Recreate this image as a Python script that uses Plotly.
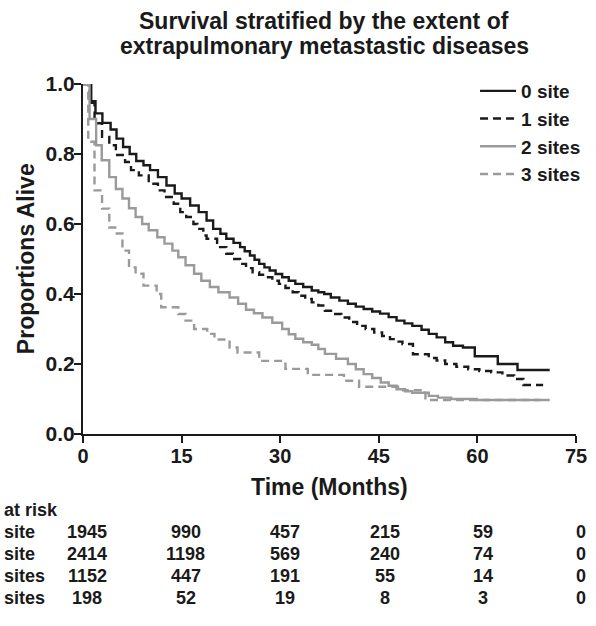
import plotly.graph_objects as go

# ---------------- data ----------------
series_names = ["0 site", "1 site", "2 sites", "3 sites"]

t_0site = [0, 1.25, 1.9, 2.95, 4.2, 5.1, 6.1, 7.1, 8.1, 9.2, 10.2, 11.4, 12.7, 13.95, 15.0, 16.3, 17.6,
           18.8, 19.8, 20.9, 21.8, 22.9, 23.9, 24.6, 25.4, 26.1, 26.8, 27.6, 28.4, 29.3, 30.3, 31.3,
           32.3, 33.5, 34.8, 35.8, 36.7, 37.7, 39.0, 40.3, 41.5, 42.7, 44.0, 45.2, 46.5, 47.7, 48.9,
           50.1, 51.5, 52.6, 53.8, 55.1, 56.3, 57.8, 59.6, 63.1, 66.1, 71.0]
s_0site = [1.0, 0.951, 0.916, 0.889, 0.870, 0.844, 0.820, 0.800, 0.780, 0.768, 0.754, 0.734, 0.710, 0.687,
           0.673, 0.653, 0.634, 0.610, 0.586, 0.572, 0.558, 0.546, 0.534, 0.522, 0.510, 0.498, 0.486,
           0.476, 0.467, 0.457, 0.448, 0.438, 0.429, 0.420, 0.410, 0.405, 0.400, 0.390, 0.381, 0.372,
           0.364, 0.357, 0.350, 0.344, 0.334, 0.324, 0.316, 0.309, 0.298, 0.286, 0.276, 0.262, 0.252,
           0.247, 0.222, 0.200, 0.183, 0.183]

t_1site = [0, 1.0, 1.76, 2.9, 4.0, 5.0, 6.4, 7.3, 8.5, 10.0, 11.4, 12.4, 13.8, 14.8, 15.7, 16.8, 17.4,
           18.3, 18.8, 20.4, 21.8, 22.8, 23.9, 24.8, 25.8, 26.8, 27.9, 28.8, 29.8, 30.8, 31.9, 32.8,
           33.8, 34.8, 35.8, 36.8, 38.0, 39.3, 40.5, 41.7, 43.0, 44.3, 45.5, 46.7, 47.6, 48.6, 50.2,
           52.6, 53.8, 55.1, 56.8, 58.6, 60.3, 62.1, 63.8, 65.6, 67.0, 70.0]
s_1site = [1.0, 0.946, 0.888, 0.849, 0.825, 0.797, 0.777, 0.754, 0.739, 0.715, 0.696, 0.677, 0.658, 0.634,
           0.620, 0.600, 0.586, 0.567, 0.558, 0.534, 0.515, 0.500, 0.486, 0.474, 0.462, 0.455, 0.448,
           0.438, 0.429, 0.417, 0.405, 0.395, 0.386, 0.376, 0.367, 0.352, 0.343, 0.333, 0.320, 0.309,
           0.300, 0.290, 0.280, 0.271, 0.264, 0.257, 0.228, 0.217, 0.210, 0.200, 0.192, 0.185, 0.180,
           0.176, 0.167, 0.157, 0.140, 0.140]

t_2sites = [0, 1.0, 2.0, 2.85, 4.0, 5.0, 6.0, 7.0, 8.0, 9.0, 10.0, 11.3, 12.4, 13.6, 14.5, 15.6, 16.9,
            18.0, 19.3, 20.6, 22.3, 23.6, 24.8, 26.0, 27.3, 28.8, 30.3, 31.3, 32.3, 33.5, 34.8, 35.8,
            36.8, 38.5, 40.3, 41.5, 42.7, 44.0, 45.3, 46.5, 47.7, 49.0, 50.1, 52.6, 54.0, 56.0, 59.9, 71.0]
s_2sites = [1.0, 0.900, 0.825, 0.782, 0.734, 0.700, 0.673, 0.645, 0.620, 0.600, 0.582, 0.562, 0.544, 0.524,
            0.505, 0.482, 0.458, 0.438, 0.420, 0.405, 0.390, 0.372, 0.355, 0.345, 0.333, 0.318, 0.300,
            0.285, 0.272, 0.262, 0.255, 0.243, 0.229, 0.215, 0.200, 0.185, 0.171, 0.160, 0.147, 0.138,
            0.128, 0.122, 0.118, 0.109, 0.104, 0.100, 0.097, 0.097]

t_3sites = [0, 0.8, 1.75, 2.9, 4.0, 4.9, 6.0, 7.0, 8.0, 9.2, 11.2, 11.9, 14.5, 15.6, 16.9, 18.9, 20.0,
            22.3, 23.5, 26.8, 30.8, 34.2, 39.7, 42.0, 48.7, 52.1, 69.5]
s_3sites = [1.0, 0.835, 0.696, 0.644, 0.590, 0.573, 0.524, 0.476, 0.458, 0.424, 0.400, 0.362, 0.343, 0.324,
            0.300, 0.286, 0.270, 0.247, 0.233, 0.209, 0.186, 0.169, 0.152, 0.135, 0.125, 0.097, 0.097]

x_ticks = [0, 15, 30, 45, 60, 75]
y_ticks = [0.0, 0.2, 0.4, 0.6, 0.8, 1.0]

risk_times = [0, 15, 30, 45, 60, 75]
risk_labels = ["site", "site", "sites", "sites"]
risk_0site = [1945, 990, 457, 215, 59, 0]
risk_1site = [2414, 1198, 569, 240, 74, 0]
risk_2sites = [1152, 447, 191, 55, 14, 0]
risk_3sites = [198, 52, 19, 8, 3, 0]

title_lines = ["Survival stratified by the extent of", "extrapulmonary metastastic diseases"]

# ---------------- styling ----------------
W, H = 596, 626
ML, MR, MT, MB = 83, 10, 84, 192
PW, PH = W - ML - MR, H - MT - MB
FONT = "Liberation Sans, Arial, Helvetica, sans-serif"
BLACK = "#1a1a1a"
GRAY = "#9a9a9a"
COL_SHIFT = [4, 4, 5, 6, 6, 5]     # pixel nudges of the at-risk columns
ROW_Y = [532, 554, 576, 598]       # pixel rows of the at-risk table


def pyp(py):  # pixel y -> paper y
    return (H - MB - py) / PH


def pxp(px):  # pixel x -> paper x
    return (px - ML) / PW


fig = go.Figure()
series = [
    (t_0site, s_0site, BLACK, "solid"),
    (t_1site, s_1site, BLACK, "8px,5px"),
    (t_2sites, s_2sites, GRAY, "solid"),
    (t_3sites, s_3sites, GRAY, "8px,5px"),
]
for i, (tt, ss, col, dash) in enumerate(series):
    fig.add_trace(go.Scatter(
        x=tt, y=ss, mode="lines", name=f"<b>{series_names[i]}</b>", legendgroup=f"g{i}",
        line=dict(color=col, width=2.4, dash=dash, shape="hv"),
        hoverinfo="skip",
    ))

annotations = []
# title
for k, line in enumerate(title_lines):
    annotations.append(dict(text=f"<b>{line}</b>", xref="paper", yref="paper",
                            x=pxp(329), y=pyp(21 + 25.5 * k), xanchor="center", yanchor="middle",
                            showarrow=False, font=dict(family=FONT, size=23, color=BLACK)))
# axis titles
annotations.append(dict(text="<b>Time (Months)</b>", xref="paper", yref="paper",
                        x=0.5, y=pyp(487), xanchor="center", yanchor="middle", showarrow=False,
                        font=dict(family=FONT, size=23, color=BLACK)))
annotations.append(dict(text="<b>Proportions Alive</b>", xref="paper", yref="paper",
                        x=pxp(25), y=0.5, xanchor="center", yanchor="middle", showarrow=False,
                        textangle=-90, font=dict(family=FONT, size=23, color=BLACK)))
# at-risk table
annotations.append(dict(text="<b>at risk</b>", xref="paper", yref="paper",
                        x=pxp(0), y=pyp(510), xanchor="left", yanchor="middle", showarrow=False,
                        font=dict(family=FONT, size=18, color=BLACK)))
risk_rows = [risk_0site, risk_1site, risk_2sites, risk_3sites]
for r, (lab, vals) in enumerate(zip(risk_labels, risk_rows)):
    annotations.append(dict(text=f"<b>{lab}</b>", xref="paper", yref="paper",
                            x=pxp(0), y=pyp(ROW_Y[r]), xanchor="left", yanchor="middle",
                            showarrow=False, font=dict(family=FONT, size=18, color=BLACK)))
    for c, (tx, v) in enumerate(zip(risk_times, vals)):
        annotations.append(dict(text=f"<b>{v}</b>", xref="x", yref="paper",
                                x=tx, y=pyp(ROW_Y[r]), xanchor="center", yanchor="middle",
                                xshift=COL_SHIFT[c], showarrow=False,
                                font=dict(family=FONT, size=18, color=BLACK)))

fig.update_layout(
    width=W, height=H,
    margin=dict(l=ML, r=MR, t=MT, b=MB, pad=0),
    paper_bgcolor="white", plot_bgcolor="white",
    showlegend=True,
    legend=dict(x=pxp(483), y=pyp(72), xanchor="left", yanchor="top",
                font=dict(family=FONT, size=19, color=BLACK),
                bgcolor="rgba(0,0,0,0)", tracegroupgap=0, itemwidth=36,
                traceorder="grouped"),
    annotations=annotations,
    font=dict(family=FONT, color=BLACK),
)
fig.update_xaxes(range=[0, 75], tickvals=x_ticks, ticktext=[f"<b>{v}</b>" for v in x_ticks],
                 showgrid=False, zeroline=False, showline=True, linecolor=BLACK, linewidth=2,
                 ticks="outside", ticklen=7, tickwidth=2, tickcolor=BLACK,
                 ticklabeloverflow="allow", ticklabelstandoff=-4,
                 tickfont=dict(family=FONT, size=20, color=BLACK), fixedrange=True)
fig.update_yaxes(range=[0, 1], tickvals=y_ticks, ticktext=[f"<b>{v:.1f}</b>" for v in y_ticks],
                 showgrid=False, zeroline=False, showline=True, linecolor=BLACK, linewidth=2,
                 ticks="outside", ticklen=7, tickwidth=2, tickcolor=BLACK,
                 ticklabeloverflow="allow", ticklabelstandoff=-5,
                 tickfont=dict(family=FONT, size=21, color=BLACK), fixedrange=True)

fig.write_html("out.html")
